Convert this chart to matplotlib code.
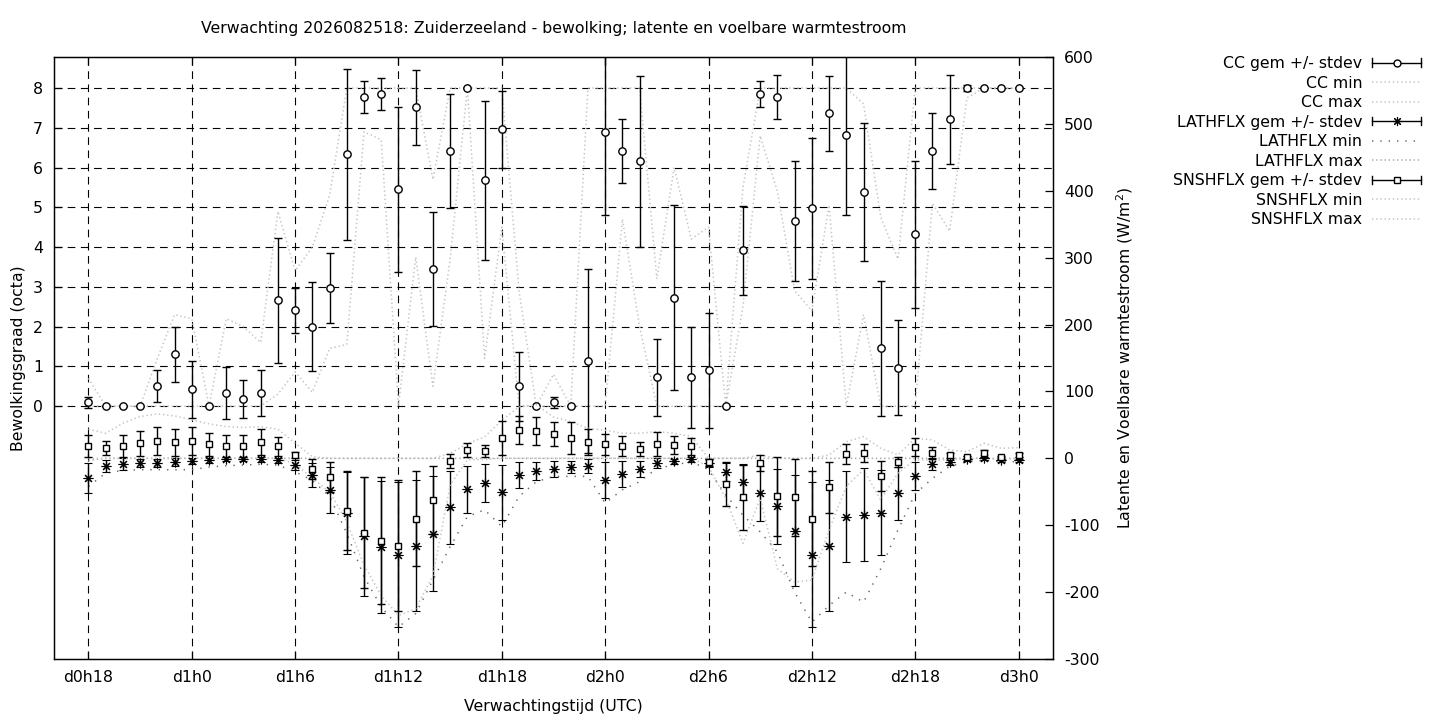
import matplotlib
matplotlib.use("Agg")
import matplotlib.pyplot as plt
from matplotlib.lines import Line2D
from matplotlib.legend_handler import HandlerBase

plt.rcParams["font.family"] = ["DejaVu Sans"]
plt.rcParams["font.size"] = 11.3
plt.rcParams["axes.unicode_minus"] = False
plt.rcParams["lines.scale_dashes"] = False

# forecast hours since d0h0 (one value per hour, d0h18 .. d3h0)
hours = list(range(18, 73))
tick_hours = [18, 24, 30, 36, 42, 48, 54, 60, 66, 72]
tick_labels = ["d0h18", "d1h0", "d1h6", "d1h12", "d1h18", "d2h0", "d2h6", "d2h12", "d2h18", "d3h0"]

# cloud cover (octa)
cc_mean = [0.1, 0, 0, 0, 0.5, 1.3, 0.42, 0, 0.33, 0.17, 0.33, 2.66, 2.41, 2.0, 2.97, 6.33, 7.77, 7.84,
           5.45, 7.51, 3.44, 6.41, 8.0, 5.68, 6.96, 0.5, 0, 0.1, 0, 1.13, 6.89, 6.41, 6.16, 0.72, 2.73,
           0.72, 0.9, 0, 3.92, 7.84, 7.77, 4.65, 4.97, 7.36, 6.81, 5.38, 1.45, 0.97, 4.32, 6.41, 7.21,
           8.0, 8.0, 8.0, 8.0]
cc_sd = [0.14, 0, 0, 0, 0.4, 0.7, 0.72, 0, 0.65, 0.48, 0.57, 1.58, 0.56, 1.12, 0.88, 2.15, 0.4, 0.4,
         2.07, 0.95, 1.43, 1.43, 0, 2.0, 0.96, 0.87, 0, 0.14, 0, 2.31, 2.09, 0.8, 2.15, 0.96, 2.32,
         1.28, 1.44, 0, 1.12, 0.33, 0.55, 1.51, 1.77, 0.95, 2.01, 1.74, 1.69, 1.2, 1.84, 0.95, 1.12,
         0.07, 0, 0, 0]
cc_min = [0, 0, 0, 0, 0, 0, 0, 0, 0, 0, 0, 0.3, 0.86, 0.35, 1.45, 1.55, 6.9, 6.7, 0, 3.75, 0.5, 3.7,
          8, 1.2, 4.5, 0, 0, 0, 0, 0, 0, 4.7, 2.0, 0, 0, 0, 0, 0, 2.5, 6.8, 5.4, 2.9, 2.4, 5.05, 0,
          2.3, 0, 0, 0, 5.1, 4.4, 7.75, 8, 8, 8]
cc_max = [0.7, 0, 0, 0, 1.2, 2.3, 2.2, 0, 2.2, 2.0, 1.6, 4.9, 3.4, 4.0, 5.3, 8, 8, 8, 8, 8, 5.7, 8, 8,
          8, 8, 2.9, 0, 0.8, 0, 8, 8, 8, 8, 3.2, 6.0, 4.2, 4.5, 0, 5.5, 8, 8, 8, 8, 8, 8, 7.6, 4.75,
          3.7, 8, 8, 8, 8, 8, 8, 8]

# latent heat flux (W/m2)
lat_mean = [-30, -12, -9, -7.5, -7.5, -6, -4.5, -3, -1.5, -1.5, -1.5, -3, -10.5, -25.5, -47, -82,
            -116.5, -132, -144, -130.5, -112.5, -73.5, -46.5, -37, -51, -25.5, -19.5, -16.5, -13.5,
            -12, -33, -24, -16.5, -7.5, -4.5, -1.5, -7.5, -21, -36, -52.5, -72, -108, -144, -130.5,
            -87, -84, -81, -52.5, -27, -9, -6, -1.5, 0, -3, -3]
lat_sd = [22.5, 9, 9, 6, 6, 6, 4.5, 4, 3, 3, 4, 4, 7.5, 18, 34, 61, 89, 98.5, 108.5, 98, 85.5, 54,
          34.5, 29, 40.5, 19.5, 13.5, 12, 9, 10.5, 27, 19.5, 12, 7.5, 4, 4, 6, 13.5, 27, 40.5, 55.5,
          82.5, 108, 98, 67.5, 69, 63, 39, 21, 9, 4, 2, 2, 2, 2]
lat_min = [-42, -22, -18, -17, -17, -17, -17, -13, -11, -10, -9, -10, -20, -33, -57, -112, -177,
           -222, -252, -232, -182, -132, -87, -77, -102, -57, -35, -27, -27, -27, -67, -47, -35, -15,
           -10, -5, -17, -55, -85, -110, -140, -200, -245, -220, -200, -215, -165, -107, -53, -30,
           -12, -5, -3, -5, -5]
lat_max = [-3, 0, 0, 0, 0, 0, 0, 0, 0, 0, 0, 0, 0, 0, 0, 0, 0, 0, 0, 0, 0, 0, 0, 0, 0, 0, 0, 0, 0,
           0, 0, 0, 0, 0, 0, 0, 0, 0, 0, 0, 0, 0, 0, 0, 0, 0, 0, 0, 0, 0, 0, 0, 0, 0, 0]

# sensible heat flux (W/m2)
sns_mean = [18.5, 15.5, 18.5, 22.5, 25.5, 24, 25.5, 21, 19, 19, 24, 18, 5, -16.5, -28, -78, -111,
            -123, -130.5, -90, -62.5, -4.5, 12, 10.5, 30, 42, 40.5, 36, 30, 24, 21, 18, 13.5, 21,
            19.5, 18, -6, -39, -58.5, -7.5, -57, -58.5, -90, -43.5, 6, 7.5, -27, -6, 16.5, 7.5, 4.5,
            1.5, 7.5, 1.5, 4.5]
sns_sd = [17, 11, 16, 19, 21, 20, 21, 17.5, 16.5, 16.5, 19.5, 14.5, 5, 15, 22, 59, 83.5, 94.5, 98,
          71, 50.5, 10.5, 10.5, 9, 25.5, 21, 21, 18, 24, 19.5, 16, 15, 10.5, 18, 13.5, 13, 5, 33, 48,
          12, 58.5, 57, 70.5, 37.5, 15, 13.5, 22.5, 7.5, 13.5, 9, 4, 2, 5, 2, 3]
sns_min = [0, 0, 0, 0, 0, 0, 0, 0, 0, 0, 0, 0, -8, -30, -50, -95, -160, -205, -235, -225, -175, -40,
           -2, -2, 0, 0, 0, 0, 0, 0, 0, 0, 0, 0, 0, 0, -12, -60, -127, -60, -165, -185, -182, -107,
           -42, -17, -62, -22, -2, -3, -2, 0, 0, -2, 0]
sns_max = [43.5, 37.5, 52.5, 62.5, 66.5, 63.5, 57.5, 51.5, 47.5, 46, 47.5, 43.5, 22.5, 2.5, 0, 0, 0,
           0, 0, 0, 0, 7.5, 22, 32, 57, 77, 80, 62, 55, 45, 42, 37.5, 37.5, 40, 37.5, 32.5, 0, 0, 0,
           5, 0, 0, 0, 5, 25, 32.5, 15, 5, 30, 27.5, 12.5, 10, 22.5, 15, 16]

W, H = 1440, 720
L, R, T, B = 54, 1053, 57, 659
fig = plt.figure(figsize=(W / 100, H / 100), dpi=100)
ax = fig.add_axes([L / W, 1 - B / H, (R - L) / W, (B - T) / H])
ax2 = ax.twinx()

light = "#c4c4c4"
dot = (0, (1, 2))
star = (8, 2, 0)  # gnuplot-like asterisk
eb = dict(ls="none", color="black", ecolor="black", elinewidth=1.0, capsize=3, capthick=1.0,
          mec="black", mew=1.0, mfc="white")

# cloud cover on the left axis
ax.plot(hours, cc_min, color=light, lw=1.1, ls=dot)
ax.plot(hours, cc_max, color=light, lw=1.1, ls=dot)
ax.errorbar(hours, cc_mean, yerr=cc_sd, marker="o", ms=5.3, zorder=3, **eb)

# heat fluxes on the right axis
ax2.plot(hours, lat_min, color="#6a6a6a", lw=1.1, ls=(0, (1, 5)))
ax2.plot(hours, lat_max, color="#a8a8a8", lw=1.1, ls=dot)
ax2.errorbar(hours, lat_mean, yerr=lat_sd, marker=star, ms=7, **{**eb, "mew": 0.8})
ax2.plot(hours, sns_min, color=light, lw=1.1, ls=dot)
ax2.plot(hours, sns_max, color=light, lw=1.1, ls=dot)
ax2.errorbar(hours, sns_mean, yerr=sns_sd, marker="s", ms=5, **eb)

ax.set_xlim(16, 74)
ax.set_ylim(-6.36, 8.78)
ax2.set_ylim(-300, 600)
ax.set_xticks(tick_hours, tick_labels)
ax.set_yticks(range(0, 9))
ax2.set_yticks(range(-300, 601, 100))

ax.grid(True, color="black", lw=0.8, ls=(0, (5.5, 4)))
ax.set_axisbelow(True)
for a in (ax, ax2):
    for s in a.spines.values():
        s.set_linewidth(0.9)
ax.tick_params(axis="x", direction="in", top=True, length=6, width=0.9, pad=8)
ax.tick_params(axis="y", direction="in", right=False, length=6, width=0.9, pad=8)
ax2.tick_params(axis="y", direction="in", length=6, width=0.9, pad=8)

ax.set_ylabel("Bewolkingsgraad (octa)")
ax.yaxis.set_label_coords(-(L - 26) / (R - L), 0.5)
ax2.set_ylabel("Latente en Voelbare warmtestroom (W/m$^2$)")
ax2.yaxis.set_label_coords((1114 - L) / (R - L), 0.5)
fig.text((L + R) / 2 / W, 1 - 706 / H, "Verwachtingstijd (UTC)", ha="center", va="center")
fig.text((L + R) / 2 / W, 1 - 29 / H,
         "Verwachting 2026082518: Zuiderzeeland - bewolking; latente en voelbare warmtestroom",
         ha="center", va="center")


class ErrKey(HandlerBase):
    # gnuplot style key sample: horizontal bar with end caps and the point in the middle
    def create_artists(self, legend, orig, xd, yd, w, h, fs, trans):
        x0, x1, y = -xd, -xd + w, -yd + h / 2
        arts = [Line2D([x0, x1], [y, y], color="black", lw=1.0),
                Line2D([x0, x0], [y - 3, y + 3], color="black", lw=1.0),
                Line2D([x1, x1], [y - 3, y + 3], color="black", lw=1.0),
                Line2D([(x0 + x1) / 2], [y], marker=orig.get_marker(), ms=orig.get_markersize(),
                       mfc="white", mec="black", mew=orig.get_markeredgewidth(), ls="none")]
        for a in arts:
            a.set_transform(trans)
        return arts


k_cc = Line2D([], [], marker="o", ms=5, mew=1.0)
k_lat = Line2D([], [], marker=star, ms=6.5, mew=0.8)
k_sns = Line2D([], [], marker="s", ms=4.8, mew=1.0)
handles = [k_cc,
           Line2D([], [], color=light, lw=1.1, ls=dot),
           Line2D([], [], color=light, lw=1.1, ls=dot),
           k_lat,
           Line2D([], [], color="#6a6a6a", lw=1.1, ls=(0, (1, 5))),
           Line2D([], [], color="#a8a8a8", lw=1.1, ls=dot),
           k_sns,
           Line2D([], [], color=light, lw=1.1, ls=dot),
           Line2D([], [], color=light, lw=1.1, ls=dot)]
labels = ["CC gem +/- stdev", "CC min", "CC max",
          "LATHFLX gem +/- stdev", "LATHFLX min", "LATHFLX max",
          "SNSHFLX gem +/- stdev", "SNSHFLX min", "SNSHFLX max"]
fig.legend(handles, labels, loc="upper right", bbox_to_anchor=(1421 / W, 1 - 56 / H),
           frameon=False, markerfirst=False, handlelength=3.1, handletextpad=0.65,
           labelspacing=0.29, borderpad=0, borderaxespad=0,
           handler_map={k_cc: ErrKey(), k_lat: ErrKey(), k_sns: ErrKey()})

fig.savefig("out.png", dpi=100)
